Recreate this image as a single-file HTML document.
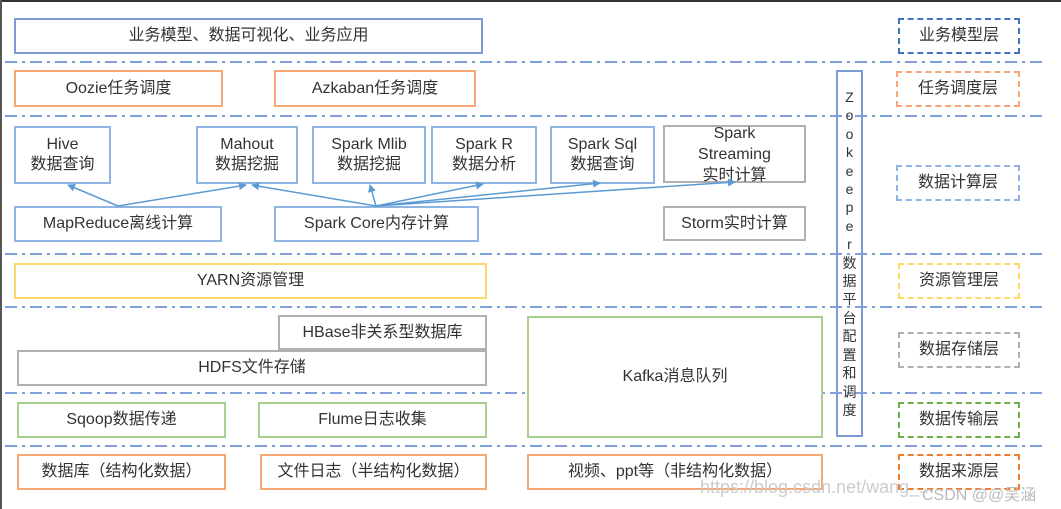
<!DOCTYPE html>
<html><head><meta charset="utf-8"><style>
body{margin:0;width:1061px;height:509px;background:#fff;position:relative;overflow:hidden;font-family:"Liberation Sans","Noto Sans CJK SC",sans-serif;color:#333}
.b{position:absolute;box-sizing:border-box;border:2px solid #7b9bd6;display:flex;align-items:center;justify-content:center;text-align:center;font-size:16px;line-height:20px;background:#fff}
.bl{border-color:#8db4e2}
.or{border-color:#f4a775}
.gr{border-color:#b0b0b0}
.gn{border-color:#a9d08e}
.ye{border-color:#ffd966}
.d{border-style:dashed}
.z{position:absolute;left:836px;top:70px;width:27px;height:367px;box-sizing:border-box;border:2px solid #7b9bd6;font-size:14px;line-height:18.4px;text-align:center;padding-top:16px}
</style></head><body>
<div style="position:absolute;left:0;top:0;width:1061px;height:2px;background:#333"></div>
<div style="position:absolute;left:0;top:0;width:2px;height:509px;background:#555"></div>
<svg width="1061" height="509" style="position:absolute;left:0;top:0">
<g stroke="#7fa0dc" stroke-width="2" stroke-dasharray="12,5,3,5">
<line x1="5" y1="62" x2="1045" y2="62"/><line x1="5" y1="116" x2="1045" y2="116"/>
<line x1="5" y1="254" x2="1045" y2="254"/><line x1="5" y1="307" x2="1045" y2="307"/>
<line x1="5" y1="393" x2="1045" y2="393"/><line x1="5" y1="446" x2="1045" y2="446"/>
</g>
</svg>
<div class="b" style="left:14px;top:18px;width:469px;height:36px">业务模型、数据可视化、业务应用</div>
<div class="b or" style="left:14px;top:70px;width:209px;height:37px">Oozie任务调度</div>
<div class="b or" style="left:274px;top:70px;width:202px;height:37px">Azkaban任务调度</div>
<div class="b bl" style="left:14px;top:126px;width:97px;height:58px">Hive<br>数据查询</div>
<div class="b bl" style="left:196px;top:126px;width:102px;height:58px">Mahout<br>数据挖掘</div>
<div class="b bl" style="left:312px;top:126px;width:114px;height:58px">Spark Mlib<br>数据挖掘</div>
<div class="b bl" style="left:431px;top:126px;width:106px;height:58px">Spark R<br>数据分析</div>
<div class="b bl" style="left:550px;top:126px;width:105px;height:58px">Spark Sql<br>数据查询</div>
<div class="b gr" style="left:663px;top:125px;width:143px;height:58px;line-height:21px">Spark<br>Streaming<br>实时计算</div>
<div class="b bl" style="left:14px;top:206px;width:208px;height:36px">MapReduce离线计算</div>
<div class="b bl" style="left:274px;top:206px;width:205px;height:36px">Spark Core内存计算</div>
<div class="b gr" style="left:663px;top:206px;width:143px;height:35px">Storm实时计算</div>
<div class="b ye" style="left:14px;top:263px;width:473px;height:36px">YARN资源管理</div>
<div class="b gr" style="left:278px;top:315px;width:209px;height:35px">HBase非关系型数据库</div>
<div class="b gr" style="left:17px;top:350px;width:470px;height:36px">HDFS文件存储</div>
<div class="b gn" style="left:527px;top:316px;width:296px;height:122px">Kafka消息队列</div>
<div class="b gn" style="left:17px;top:402px;width:209px;height:36px">Sqoop数据传递</div>
<div class="b gn" style="left:258px;top:402px;width:229px;height:36px">Flume日志收集</div>
<div class="b or" style="left:17px;top:454px;width:209px;height:36px">数据库（结构化数据）</div>
<div class="b or" style="left:260px;top:454px;width:227px;height:36px">文件日志（半结构化数据）</div>
<div class="b or" style="left:527px;top:454px;width:296px;height:36px">视频、ppt等（非结构化数据）</div>
<div class="z">Z<br>o<br>o<br>k<br>e<br>e<br>p<br>e<br>r<br>数<br>据<br>平<br>台<br>配<br>置<br>和<br>调<br>度</div>
<div class="b d" style="left:898px;top:18px;width:122px;height:36px;border-color:#4472c4">业务模型层</div>
<div class="b d or" style="left:896px;top:71px;width:124px;height:36px">任务调度层</div>
<div class="b d bl" style="left:896px;top:165px;width:124px;height:36px">数据计算层</div>
<div class="b d ye" style="left:898px;top:263px;width:122px;height:36px">资源管理层</div>
<div class="b d gr" style="left:898px;top:332px;width:122px;height:36px">数据存储层</div>
<div class="b d" style="left:898px;top:402px;width:122px;height:36px;border-color:#70ad47">数据传输层</div>
<div class="b d" style="left:898px;top:454px;width:122px;height:36px;border-color:#ed7d31">数据来源层</div>
<svg width="1061" height="509" style="position:absolute;left:0;top:0">
<defs><marker id="a" markerWidth="8" markerHeight="8" refX="7" refY="4" orient="auto" markerUnits="userSpaceOnUse"><path d="M0,0 L8,4 L0,8z" fill="#5b9bd5"/></marker></defs>
<g stroke="#5b9bd5" stroke-width="1.5" fill="none" marker-end="url(#a)">
<line x1="118" y1="206" x2="68" y2="185"/><line x1="118" y1="206" x2="246" y2="185"/>
<line x1="376" y1="206" x2="252" y2="185"/><line x1="376" y1="206" x2="370" y2="185"/>
<line x1="376" y1="206" x2="483" y2="184"/><line x1="376" y1="206" x2="600" y2="183"/>
<line x1="376" y1="206" x2="735" y2="182"/>
</g>
<text x="700" y="493" font-size="18" fill="#ccc" font-family="Liberation Sans">https://blog.csdn.net/wang_...</text>
<text x="922" y="500" font-size="16" fill="#bbb" font-family="Liberation Sans,Noto Sans CJK SC,sans-serif">CSDN @@吴涵</text>
</svg>
</body></html>
